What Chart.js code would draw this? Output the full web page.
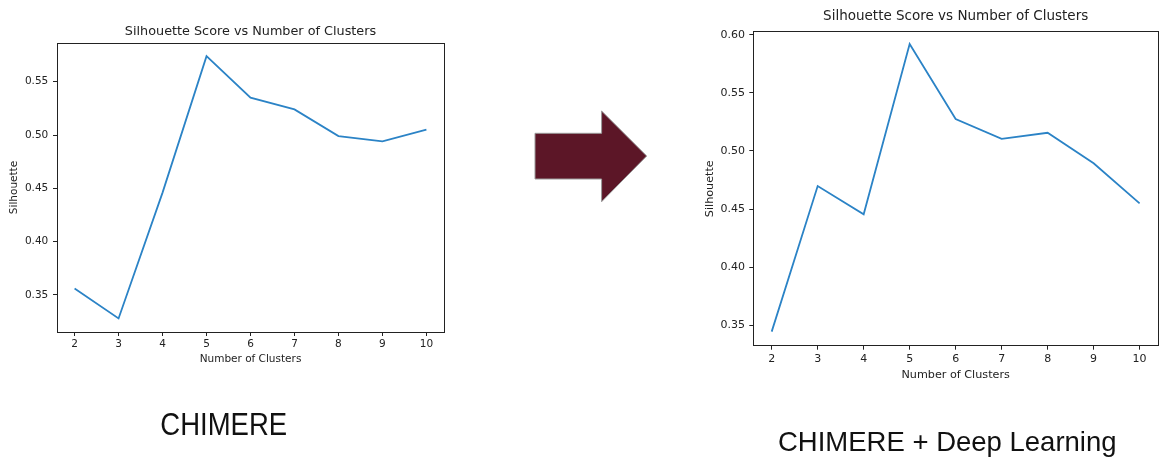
<!DOCTYPE html>
<html><head><meta charset="utf-8">
<script src="https://cdn.jsdelivr.net/npm/chart.js@4.4.1/dist/chart.umd.min.js"></script>
<style>
html,body{margin:0;padding:0;background:#fff;width:1159px;height:461px;overflow:hidden;position:relative;}
canvas{position:absolute;}
.cap{position:absolute;font-family:'Liberation Sans',Arial,sans-serif;font-size:27.5px;line-height:27.5px;color:#111;white-space:nowrap;transform-origin:0 0;}
</style></head><body>
<canvas id="left" width="501" height="380" style="left:0;top:0"></canvas>
<canvas id="right" width="469" height="400" style="left:690px;top:0"></canvas>
<svg style="position:absolute;left:0;top:0;pointer-events:none" width="1159" height="461">
  <polygon points="535,133.3 601.6,133.3 601.6,111 646.7,156 601.6,201.7 601.6,179 535,179" fill="#5c1627" stroke="#9a9a9a" stroke-width="1"/>
</svg>
<div class="cap" style="left:160.3px;top:409.2px;transform:scaleY(1.15)">CHIMERE</div>
<div class="cap" style="left:778px;top:428.4px">CHIMERE + Deep Learning</div>
<script>
const clusters = [2, 3, 4, 5, 6, 7, 8, 9, 10];
const chimereScores = [0.356, 0.328, 0.446, 0.574, 0.535, 0.524, 0.499, 0.494, 0.505];
const deepLearningScores = [0.3445, 0.4698, 0.4454, 0.592, 0.5274, 0.5103, 0.5156, 0.4894, 0.4549];
const xTickValues = [2, 3, 4, 5, 6, 7, 8, 9, 10];
const leftYTicks = [0.35, 0.40, 0.45, 0.50, 0.55];
const rightYTicks = [0.35, 0.40, 0.45, 0.50, 0.55, 0.60];
const chartTitle = 'Silhouette Score vs Number of Clusters';
const xAxisLabel = 'Number of Clusters';
const yAxisLabel = 'Silhouette';

function build(id, scores, yTicks, yMin, yMax, L) {
  const ink = '#222222';
  const f = s => ({family: "'DejaVu Sans', sans-serif", size: s});
  const fixedTicks = vals => axis => { axis.ticks = vals.map(v => ({value: v})); };
  return new Chart(document.getElementById(id), {
    type: 'line',
    data: { datasets: [{
      data: clusters.map((c, i) => ({x: c, y: scores[i]})),
      borderColor: '#2b83c6', borderWidth: 1.8, pointRadius: 0, tension: 0, fill: false
    }]},
    options: {
      responsive: false, animation: false, events: [],
      layout: {padding: {left: 0, top: 0, bottom: 0, right: L.padRight}},
      plugins: {legend: {display: false}, title: {display: false}, tooltip: {enabled: false}},
      scales: {
        x: {
          type: 'linear', position: 'bottom', min: 1.6, max: 10.4, bounds: 'data',
          afterBuildTicks: fixedTicks(xTickValues),
          afterFit: s => { s.height = L.xH; },
          grid: {display: true, drawOnChartArea: false, drawTicks: true, tickLength: 4, color: ink},
          border: {display: true, color: ink, width: 1},
          ticks: {font: f(L.tick), color: ink, padding: L.xTickPad, maxRotation: 0, autoSkip: false, callback: v => String(v)},
          title: {display: true, text: xAxisLabel, font: f(L.label), color: ink, padding: {top: 0, bottom: L.xTitlePad}}
        },
        y: {
          type: 'linear', position: 'left', min: yMin, max: yMax, bounds: 'data',
          afterBuildTicks: fixedTicks(yTicks),
          afterFit: s => { s.width = L.yW; },
          grid: {display: true, drawOnChartArea: false, drawTicks: true, tickLength: 4, color: ink},
          border: {display: true, color: ink, width: 1},
          ticks: {font: f(L.tick), color: ink, padding: L.yTickPad, autoSkip: false, callback: v => v.toFixed(2)},
          title: {display: true, text: yAxisLabel, font: f(L.label), color: ink, padding: {top: L.yTitlePad, bottom: 0}}
        },
        x2: {
          type: 'linear', position: 'top', min: 1.6, max: 10.4,
          afterFit: s => { s.height = L.topH; },
          grid: {display: false}, ticks: {display: false},
          border: {display: true, color: ink, width: 1},
          title: {display: true, text: chartTitle, font: f(L.title), color: ink, padding: {top: L.titlePad, bottom: 0}}
        },
        y2: {
          type: 'linear', position: 'right',
          afterFit: s => { s.width = 0; },
          grid: {display: false}, ticks: {display: false},
          border: {display: true, color: ink, width: 1}
        }
      }
    }
  });
}

build('left', chimereScores, leftYTicks, 0.3153, 0.5863, {
  padRight: 57, xH: 48, yW: 57, topH: 43,
  tick: 10.5, label: 10.5, title: 12.8,
  xTickPad: 1.7, xTitlePad: 14.7, yTickPad: 4.7, yTitlePad: 7.7, titlePad: 24
});
build('right', deepLearningScores, rightYTicks, 0.33238, 0.60258, {
  padRight: 1, xH: 54.3, yW: 63.3, topH: 31.7,
  tick: 11, label: 11.2, title: 13.5,
  xTickPad: 3, xTitlePad: 18.3, yTickPad: 4.3, yTitlePad: 13.3, titlePad: 8.6
});
</script>
</body></html>
